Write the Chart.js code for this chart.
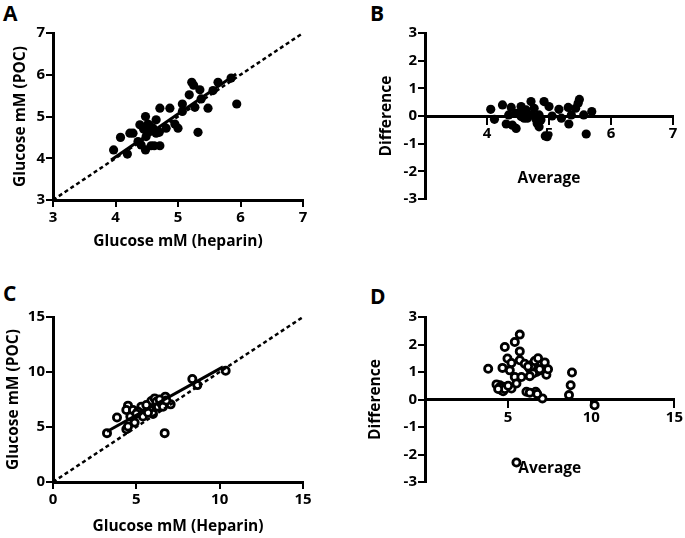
<!DOCTYPE html>
<html>
<head>
<meta charset="utf-8">
<script src="https://cdn.jsdelivr.net/npm/chart.js@4.4.0/dist/chart.umd.min.js"></script>
<style>
body { margin: 0; background: #fff; width: 685px; height: 538px; position: relative; overflow: hidden; }
.panel { position: absolute; }
.lab { position: absolute; font: bold 21px "Open Sans", sans-serif; line-height: 21px; color: #000; }
</style>
</head>
<body>
<div class="lab" style="left:3px;top:3px">A</div>
<div class="lab" style="left:370px;top:3px">B</div>
<div class="lab" style="left:3px;top:283px">C</div>
<div class="lab" style="left:370px;top:286px">D</div>
<canvas id="cA" class="panel" style="left:0;top:0" width="340" height="270"></canvas>
<canvas id="cB" class="panel" style="left:340px;top:0" width="345" height="270"></canvas>
<canvas id="cC" class="panel" style="left:0;top:270px" width="340" height="268"></canvas>
<canvas id="cD" class="panel" style="left:340px;top:270px" width="345" height="268"></canvas>
<script>
// panel A: POC vs heparin
var heparinA = [3.97, 4.08, 4.19, 4.23, 4.28, 4.36, 4.39, 4.41, 4.48, 4.48, 4.49, 4.52, 4.55, 4.57, 4.60, 4.62, 4.65, 4.65, 4.71, 4.71, 4.70, 4.81, 4.87, 4.95, 5.00, 5.07, 5.07, 5.18, 5.22, 5.25, 5.27, 5.32, 5.35, 5.37, 5.48, 5.56, 5.64, 5.85, 5.94, 4.55, 4.45];
var pocA = [4.20, 4.50, 4.10, 4.60, 4.60, 4.40, 4.80, 4.32, 5.00, 4.20, 4.52, 4.82, 4.64, 4.30, 4.72, 4.30, 4.92, 4.60, 5.20, 4.30, 4.62, 4.72, 5.20, 4.82, 4.72, 5.30, 5.12, 5.52, 5.82, 5.75, 5.22, 4.62, 5.64, 5.42, 5.20, 5.62, 5.82, 5.92, 5.30, 4.78, 4.70];
var identityA = [3, 7];
var fitAx = [3.93, 5.93];
var fitAy = [3.96, 6.02];

// panel B: difference vs average
var avgB = [4.06, 4.12, 4.25, 4.31, 4.35, 4.39, 4.41, 4.47, 4.47, 4.55, 4.57, 4.60, 4.63, 4.65, 4.71, 4.73, 4.76, 4.79, 4.81, 4.84, 4.87, 4.92, 4.94, 4.97, 5.00, 5.05, 5.16, 5.20, 5.31, 5.32, 5.36, 5.43, 5.47, 5.49, 5.56, 5.60, 5.69, 4.84, 4.55];
var diffB = [0.24, -0.12, 0.40, -0.29, 0.04, 0.31, -0.33, -0.45, 0.10, 0.34, 0.10, -0.08, 0.22, -0.08, 0.52, 0.04, 0.28, -0.12, -0.27, -0.39, -0.14, 0.52, -0.72, -0.75, 0.34, 0.00, 0.24, -0.08, 0.31, -0.29, 0.04, 0.28, 0.46, 0.60, 0.04, -0.65, 0.16, 0.04, -0.02];

// panel C: POC vs heparin
var heparinC = [3.24, 3.84, 4.40, 4.50, 4.40, 4.64, 4.80, 4.90, 5.30, 5.40, 5.80, 5.90, 6.00, 6.10, 6.20, 6.30, 6.50, 6.60, 6.74, 6.70, 7.06, 8.36, 8.66, 10.36, 4.50, 5.10, 5.60, 6.40, 5.00, 6.80, 5.70];
var pocC = [4.44, 5.86, 4.80, 6.94, 6.55, 5.95, 6.55, 5.40, 6.85, 5.95, 6.70, 7.36, 6.19, 7.60, 7.30, 6.85, 7.15, 6.85, 7.76, 4.44, 7.06, 9.36, 8.81, 10.11, 5.04, 6.40, 7.00, 7.50, 6.20, 7.40, 6.30];
var identityC = [0, 15];
var fitCx = [3.24, 10.2];
var fitCy = [4.59, 10.47];

// panel D: difference vs average
var avgD = [3.80, 4.66, 4.80, 4.50, 4.60, 4.70, 4.96, 5.10, 5.20, 5.20, 5.40, 5.40, 5.50, 5.70, 5.70, 5.70, 5.80, 6.00, 6.10, 6.30, 6.50, 6.60, 6.66, 6.80, 6.90, 7.06, 7.20, 7.30, 8.66, 8.76, 8.84, 10.20, 5.50, 6.40, 6.70, 7.00, 6.60, 4.70,
    6.20, 6.50, 6.80, 7.20, 7.30, 6.30, 6.90, 7.40, 4.30, 4.50, 4.80, 5.00, 4.40, 6.30, 6.75];
var diffD = [1.12, 1.15, 1.91, 0.52, 0.34, 0.46, 1.49, 1.06, 1.33, 0.40, 2.09, 0.82, 0.58, 2.36, 1.75, 1.43, 0.82, 1.30, 0.28, 1.12, 1.30, 1.06, 0.28, 1.36, 1.06, 0.04, 1.12, 1.06, 0.16, 0.52, 0.98, -0.21, -2.29, 1.20, 1.00, 1.30, 1.40, 0.30,
    1.20, 0.95, 1.50, 1.35, 0.90, 0.85, 1.10, 1.10, 0.55, 0.45, 0.38, 0.50, 0.38, 0.25, 0.20];

function pts(xs, ys) {
    return xs.map(function(x, i) { return {x: x, y: ys[i]}; });
}

var tickFont = {family: 'Open Sans', size: 15, weight: 'bold'};
var titleFont = {family: 'Open Sans', size: 15.5, weight: 'bold'};

function filled(xs, ys) {
    return {data: pts(xs, ys), pointRadius: 4.6, pointBackgroundColor: '#000', pointBorderWidth: 0, showLine: false};
}
function hollow(xs, ys) {
    return {data: pts(xs, ys), pointRadius: 3.6, pointBackgroundColor: '#fff', pointBorderColor: '#000', pointBorderWidth: 2.8, showLine: false};
}
function line(xs, ys, dashed) {
    return {type: 'line', data: pts(xs, ys), pointRadius: 0, borderColor: '#000', borderWidth: dashed ? 2.5 : 3, borderDash: dashed ? [4, 3] : [], fill: false};
}

function axis(min, max, step, title, tpad, hide) {
    return {
        type: 'linear', min: min, max: max,
        ticks: {stepSize: step, color: '#000', font: tickFont, padding: 1,
            callback: function(v) { return v === hide ? '' : String(v); }},
        grid: {drawOnChartArea: false, drawTicks: true, tickLength: 7, color: '#000', lineWidth: 2},
        border: {display: true, color: '#000', width: 3},
        title: {display: true, text: title, color: '#000', font: titleFont, padding: tpad}
    };
}

function panel(id, box, datasets, xs, ys, padBottom) {
    xs.afterFit = function(s) { s.height = box.h - box.bottom; };
    ys.afterFit = function(s) { s.width = box.left; };
    new Chart(document.getElementById(id), {
        type: 'scatter',
        data: {datasets: datasets},
        options: {
            responsive: false, animation: false,
            layout: {padding: {left: 0, top: box.top, right: box.w - box.right, bottom: padBottom ? box.h - box.bottom : 0}},
            plugins: {legend: {display: false}, tooltip: {enabled: false}},
            scales: {x: xs, y: ys}
        }
    });
}

var xA = axis(3, 7, 1, 'Glucose mM (heparin)', {top: 0, bottom: 18.7});
xA.ticks.padding = 2;
panel('cA', {w: 340, h: 270, left: 53, right: 303, top: 33, bottom: 200},
    [line(fitAx, fitAy, false), line(identityA, identityA, true), filled(heparinA, pocA)],
    xA, axis(3, 7, 1, 'Glucose mM (POC)', {top: 11.7, bottom: 0}), false);

var xB = axis(3, 7, 1, 'Average', {top: 0, bottom: -1.3}, 3);
xB.position = {y: 0};
xB.ticks.padding = 2;
panel('cB', {w: 345, h: 270, left: 85, right: 333, top: 33, bottom: 199},
    [filled(avgB, diffB)],
    xB, axis(-3, 3, 1, 'Difference', {top: 37, bottom: 0}), true);

var xC = axis(0, 15, 5, 'Glucose mM (Heparin)', {top: 0, bottom: 1.7});
xC.ticks.padding = 2;
panel('cC', {w: 340, h: 268, left: 53, right: 303, top: 47, bottom: 212},
    [line(fitCx, fitCy, false), line(identityC, identityC, true), hollow(heparinC, pocC)],
    xC, axis(0, 15, 5, 'Glucose mM (POC)', {top: 4.7, bottom: 0}), false);

var xD = axis(0, 15, 5, 'Average', {top: 0, bottom: -22}, 0);
xD.position = {y: 0};
xD.ticks.padding = 2;
panel('cD', {w: 345, h: 268, left: 85, right: 335, top: 47, bottom: 212},
    [hollow(avgD, diffD)],
    xD, axis(-3, 3, 1, 'Difference', {top: 26.2, bottom: 0}), true);
</script>
</body>
</html>
